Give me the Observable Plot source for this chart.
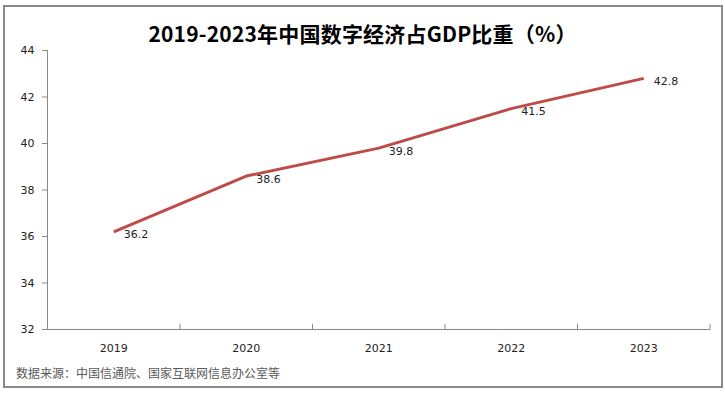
<!DOCTYPE html>
<html>
<head>
<meta charset="utf-8">
<script src="https://cdn.jsdelivr.net/npm/d3@7"></script>
<script src="https://cdn.jsdelivr.net/npm/@observablehq/plot@0.6"></script>
<style>
  html, body { margin: 0; padding: 0; background: #fff; }
  #wrap { position: relative; width: 725px; height: 394px; overflow: hidden; background: #fff; }
  #frame { position: absolute; left: 3px; top: 5px; width: 716px; height: 379px; border: 2px solid #8a8a8a; box-sizing: content-box; }
  #title { position: absolute; left: 0; top: 0; width: 725px; height: 54px; text-align: center;
           font-family: "Noto Sans CJK SC", sans-serif; font-weight: bold; font-size: 21px; color: #000; line-height: 40px; padding-top: 13px; box-sizing: border-box; letter-spacing: 0.2px; }
  #chart { position: absolute; left: 0; top: 42px; }
  #source { position: absolute; left: 16px; top: 365px; font-family: "Noto Sans CJK SC", sans-serif; font-size: 12px; color: #595959; line-height: 16px; }
</style>
</head>
<body>
<div id="wrap">
  <div id="frame"></div>
  <div id="chart"></div>
  <div id="title">2019-2023年中国数字经济占GDP比重（%）</div>
  <div id="source">数据来源：中国信通院、国家互联网信息办公室等</div>
</div>
<script>
const years = [2019, 2020, 2021, 2022, 2023];
const shares = [36.2, 38.6, 39.8, 41.5, 42.8];
const yTicks = [32, 34, 36, 38, 40, 42, 44];
const yDomain = [32, 44];

const data = years.map((year, i) => ({year, value: shares[i]}));
// category boundaries (ticks between the year bands)
const boundaries = years.map(y => y + 0.5);

const tickShape = {draw(context, l) { context.moveTo(0, 0); context.lineTo(0, -l); }};

const chart = Plot.plot({
  width: 725,
  height: 318,
  marginLeft: 47,
  marginRight: 15.5,
  marginTop: 8,
  marginBottom: 31,
  style: {fontFamily: "DejaVu Sans, sans-serif", fontSize: "11px", color: "#222", background: "transparent"},
  x: {domain: [years[0] - 0.5, years[years.length - 1] + 0.5]},
  y: {domain: yDomain},
  marks: [
    Plot.axisY({ticks: yTicks, tickSize: 5, tickPadding: 8, stroke: "#888", tickFormat: d => String(d), label: null, fill: "#222"}),
    Plot.axisX({ticks: years, tickSize: 0, tickPadding: 15, tickFormat: d => String(d), label: null, fill: "#222"}),
    Plot.ruleX([years[0] - 0.5], {stroke: "#888", strokeWidth: 1}),
    Plot.ruleY([yDomain[0]], {stroke: "#888", strokeWidth: 1}),
    Plot.vector(boundaries, {x: d => d, y: yDomain[0], length: 5, anchor: "start", shape: tickShape, stroke: "#888", strokeWidth: 1}),
    Plot.line(data, {x: "year", y: "value", stroke: "#BE4B48", strokeWidth: 3, strokeLinejoin: "round", strokeLinecap: "butt"}),
    Plot.text(data, {x: "year", y: "value", text: d => d.value.toFixed(1), textAnchor: "start", dx: 10, dy: 3, fontSize: 11, fill: "#222"})
  ]
});
document.getElementById("chart").appendChild(chart);
</script>
</body>
</html>
